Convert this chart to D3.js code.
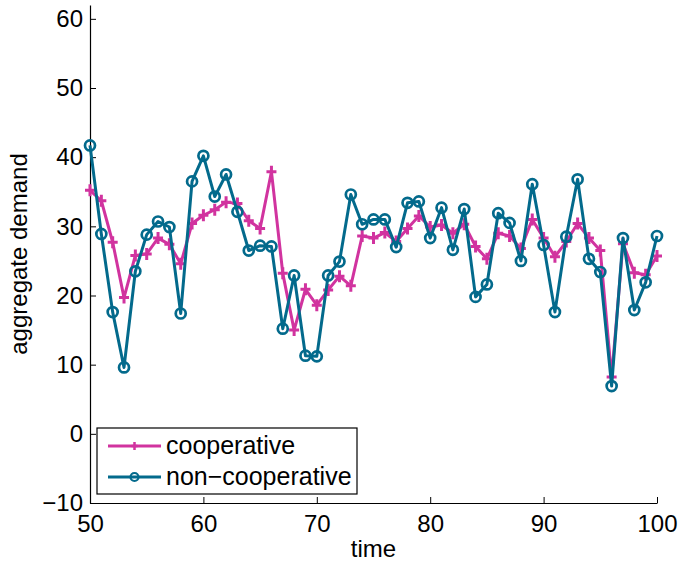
<!DOCTYPE html>
<html>
<head>
<meta charset="utf-8">
<script src="https://cdn.jsdelivr.net/npm/d3@7"></script>
<style>
  body { margin: 0; background: #fff; }
  text { font-family: "Liberation Sans", Arial, Helvetica, sans-serif; fill: #000; }
</style>
</head>
<body>
<svg id="chart" width="680" height="567"></svg>
<script>
// time steps 50..100
const times = d3.range(50, 101);

const cooperative = [
  35.2, 33.7, 27.7, 19.7, 25.8, 26.0, 28.3, 27.4, 24.6, 30.4,
  31.6, 32.4, 33.5, 33.3, 30.8, 29.7, 37.9, 23.2, 15.0, 20.9,
  18.6, 20.8, 22.8, 21.4, 28.6, 28.3, 29.1, 27.8, 29.7, 31.5,
  29.9, 30.2, 29.0, 30.3, 27.1, 25.3, 29.0, 28.6, 26.8, 31.0,
  28.3, 25.6, 27.8, 30.4, 28.3, 26.5, 8.2, 27.5, 23.3, 23.0,
  25.7
];

const nonCooperative = [
  41.7, 28.9, 17.6, 9.6, 23.5, 28.8, 30.7, 29.9, 17.4, 36.5,
  40.2, 34.3, 37.5, 32.1, 26.5, 27.2, 27.1, 15.2, 22.9, 11.3,
  11.2, 22.9, 24.9, 34.6, 30.3, 31.0, 31.0, 27.0, 33.4, 33.6,
  28.3, 32.7, 26.6, 32.5, 19.8, 21.6, 31.9, 30.5, 25.0, 36.1,
  27.3, 17.6, 28.5, 36.8, 25.3, 23.4, 6.9, 28.3, 17.9, 21.9,
  28.6
];

const xTicks = [50, 60, 70, 80, 90, 100];
const yTicks = [-10, 0, 10, 20, 30, 40, 50, 60];

const series = [
  { name: 'cooperative', values: cooperative, color: '#d1339f', marker: 'plus' },
  { name: 'non\u2212cooperative', values: nonCooperative, color: '#036a8c', marker: 'circle' }
];

const svg = d3.select('#chart');
const margin = { top: 5, right: 23, bottom: 64, left: 90 };
const width = 680 - margin.left - margin.right;
const height = 567 - margin.top - margin.bottom;

const x = d3.scaleLinear().domain([50, 100]).range([0, width]);
const y = d3.scaleLinear().domain([-10, 62]).range([height, 0]);

const g = svg.append('g').attr('transform', `translate(${margin.left},${margin.top})`);

// axes, matlab style ticks pointing inward
const xAxis = g.append('g')
  .attr('transform', `translate(0,${height})`)
  .call(d3.axisBottom(x).tickValues(xTicks).tickSizeInner(-6).tickSizeOuter(0).tickPadding(12));
const yAxis = g.append('g')
  .call(d3.axisLeft(y).tickValues(yTicks).tickSizeInner(-6).tickSizeOuter(0).tickPadding(7)
    .tickFormat(d => d < 0 ? '\u2212' + Math.abs(d) : d));

[xAxis, yAxis].forEach(a => {
  a.select('.domain').attr('stroke', '#000').attr('stroke-width', 1.2);
  a.selectAll('.tick line').attr('stroke', '#000').attr('stroke-width', 1);
  a.selectAll('.tick text').style('font-size', '24px').attr('fill', '#000');
});

const line = d3.line().x((d, i) => x(times[i])).y(d => y(d));

const drawMarker = (sel, s, cx, cy) => {
  if (s.marker === 'plus') {
    sel.append('path')
      .attr('d', `M${cx - 5},${cy}H${cx + 5}M${cx},${cy - 6}V${cy + 6}`)
      .attr('stroke', s.color).attr('stroke-width', 3).attr('fill', 'none');
  } else {
    sel.append('circle')
      .attr('cx', cx).attr('cy', cy).attr('r', 5)
      .attr('stroke', s.color).attr('stroke-width', 2.7).attr('fill', 'none');
  }
};

series.forEach(s => {
  const sg = g.append('g');
  sg.append('path')
    .datum(s.values)
    .attr('d', line)
    .attr('fill', 'none')
    .attr('stroke', s.color)
    .attr('stroke-width', 3)
    .attr('stroke-linejoin', 'round');
  s.values.forEach((v, i) => drawMarker(sg, s, x(times[i]), y(v)));
});

// axis labels
svg.append('text')
  .attr('x', margin.left + width / 2)
  .attr('y', 557)
  .attr('text-anchor', 'middle')
  .style('font-size', '24px')
  .text('time');

svg.append('text')
  .attr('transform', `translate(27,${margin.top + y(26)}) rotate(-90)`)
  .attr('text-anchor', 'middle')
  .style('font-size', '24px')
  .text('aggregate demand');

// legend
const legend = svg.append('g').attr('transform', 'translate(97,428)');
legend.append('rect')
  .attr('width', 260).attr('height', 66)
  .attr('fill', '#fff').attr('stroke', '#000').attr('stroke-width', 1.2);
series.forEach((s, i) => {
  const ly = 18 + i * 31;
  legend.append('line')
    .attr('x1', 11).attr('x2', 64).attr('y1', ly).attr('y2', ly)
    .attr('stroke', s.color).attr('stroke-width', 3);
  if (s.marker === 'plus') {
    legend.append('path')
      .attr('d', `M${37.5 - 3},${ly}H${37.5 + 3}M37.5,${ly - 4}V${ly + 4}`)
      .attr('stroke', s.color).attr('stroke-width', 2.5);
  } else {
    legend.append('circle')
      .attr('cx', 37.5).attr('cy', ly).attr('r', 4)
      .attr('fill', 'none').attr('stroke', s.color).attr('stroke-width', 2.2);
  }
  legend.append('text')
    .attr('x', 69).attr('y', ly + 8)
    .style('font-size', '25px')
    .text(s.name);
});
</script>
</body>
</html>
